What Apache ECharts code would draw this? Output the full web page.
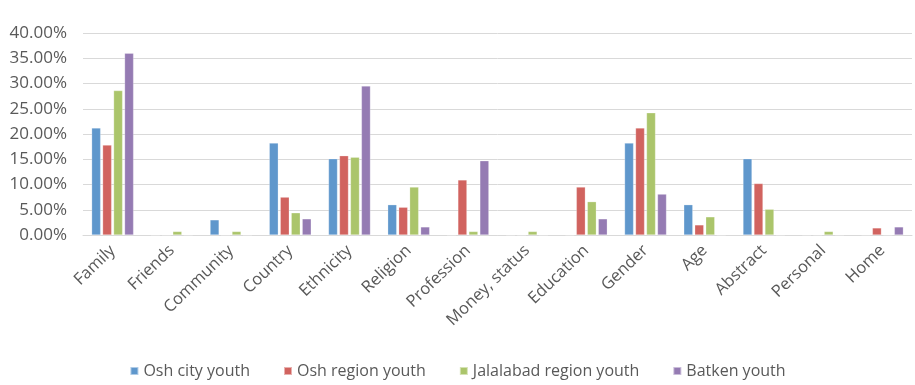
<!DOCTYPE html>
<html><head><meta charset="utf-8">
<script src="https://cdn.jsdelivr.net/npm/echarts@6/dist/echarts.min.js"></script>
<style>html,body{margin:0;padding:0;background:#fff}#c{width:915px;height:385px}</style>
</head><body><div id="c"></div>
<script>
var categories = ["Family","Friends","Community","Country","Ethnicity","Religion","Profession","Money, status","Education","Gender","Age","Abstract","Personal","Home"];
var seriesNames = ["Osh city youth","Osh region youth","Jalalabad region youth","Batken youth"];
var oshCity = [21.2,0,3.0,18.2,15.1,6.0,0,0,0,18.2,6.0,15.1,0,0];
var oshRegion = [17.8,0,0,7.5,15.7,5.5,10.9,0,9.5,21.2,2.0,10.2,0,1.4];
var jalalabad = [28.6,0.7,0.7,4.4,15.4,9.5,0.7,0.7,6.6,24.2,3.6,5.1,0.7,0];
var batken = [36.0,0,0,3.2,29.5,1.6,14.7,0,3.2,8.1,0,0,0,1.6];
var colors = ["#5F97CC","#D1635F","#ABC56B","#957BB3"];
var font = "'Open Sans'";
var dataSets = [oshCity, oshRegion, jalalabad, batken];
var chart = echarts.init(document.getElementById('c'));
chart.setOption({
  animation:false,
  textStyle:{fontFamily:font},
  grid:{left:83,right:3,top:33,bottom:150,containLabel:false},
  legend:{bottom:1,left:'center',itemWidth:8,itemHeight:8,itemGap:33,icon:'rect',
    textStyle:{fontFamily:font,fontSize:16,color:'#595959'},data:seriesNames},
  xAxis:{type:'category',data:categories,
    axisLine:{lineStyle:{color:'#D9D9D9'}},axisTick:{show:false},
    axisLabel:{rotate:44,interval:0,fontFamily:font,fontSize:16.5,color:'#595959',margin:13}},
  yAxis:{type:'value',min:0,max:40,interval:5,
    axisLabel:{fontFamily:font,fontSize:17,color:'#595959',margin:16,formatter:function(v){return v.toFixed(2)+'%';}},
    splitLine:{lineStyle:{color:'#D9D9D9'}},axisLine:{show:false},axisTick:{show:false}},
  series: seriesNames.map(function(n,i){return {name:n,type:'bar',data:dataSets[i],
    barWidth:9,barGap:'22%',itemStyle:{color:colors[i],borderColor:'rgba(255,255,255,0.5)',borderWidth:0.5}};})
});
</script></body></html>
